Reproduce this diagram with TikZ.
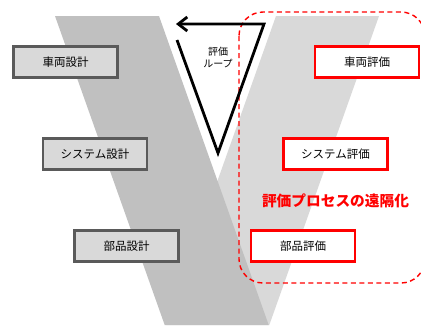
\documentclass[tikz,border=0pt]{standalone}
\usepackage{fontspec}
\setmainfont{Noto Sans CJK JP}
\usetikzlibrary{arrows.meta}
\definecolor{darkarm}{HTML}{C0C0C0}
\definecolor{lightarm}{HTML}{D9D9D9}
\definecolor{boxfill}{HTML}{D9D9D9}
\definecolor{boxline}{HTML}{5A5A5A}
\definecolor{myred}{HTML}{FF0000}
\tikzset{
  designbox/.style={draw=boxline, fill=boxfill, line width=2.6pt, inner sep=0pt,
    minimum width=104pt, minimum height=31pt, font=\fontsize{11.5}{13}\selectfont},
  evalbox/.style={draw=myred, fill=white, line width=2.8pt, inner sep=0pt,
    minimum width=104pt, minimum height=31pt, font=\fontsize{11.5}{13}\selectfont},
  loopline/.style={line width=2.8pt, line join=miter, draw=black},
  remote/.style={draw=myred, line width=1.4pt, dash pattern=on 5pt off 3.5pt, rounded corners=24pt},
}
\begin{document}
\begin{tikzpicture}[x=1pt,y=-1pt]
\useasboundingbox (0,0) rectangle (421,325);
\clip (0,0) rectangle (421,325);
\fill[white] (0,0) rectangle (421,325);
% V arms
\fill[lightarm] (276,16) -- (379,16) -- (269.3,325) -- (166.3,325) -- cycle;
\fill[darkarm] (55,16) -- (159,16) -- (268.7,325) -- (164.7,325) -- cycle;
% remote evaluation frame
\draw[remote] (239,12) rectangle (425,283);
% loop arrow
\coordinate (l1) at (177,40);
\coordinate (l2) at (218,153);
\coordinate (l3) at (264,24);
\coordinate (l4) at (176,24);
\draw[loopline, -{Straight Barb[length=9pt,width=14pt,line width=2.8pt]}] (l1) -- (l2) -- (l3) -- (l4);
\node[align=center, inner sep=0pt, font=\fontsize{10}{11.5}\selectfont] (looplabel) at (218,57.5) {評価\\ループ};
% design boxes
\node[designbox] (d1) at (65.5,62) {車両設計};
\node[designbox] (d2) at (95,154) {システム設計};
\node[designbox] (d3) at (126.5,246) {部品設計};
% evaluation boxes
\node[evalbox] (e1) at (367,62) {車両評価};
\node[evalbox] (e2) at (335.5,154) {システム評価};
\node[evalbox] (e3) at (303,246) {部品評価};
% remote label
\node[text=myred, inner sep=0pt, font=\fontsize{14.7}{16}\selectfont\bfseries] (rl) at (335.5,201) {評価プロセスの遠隔化};
\end{tikzpicture}
\end{document}
